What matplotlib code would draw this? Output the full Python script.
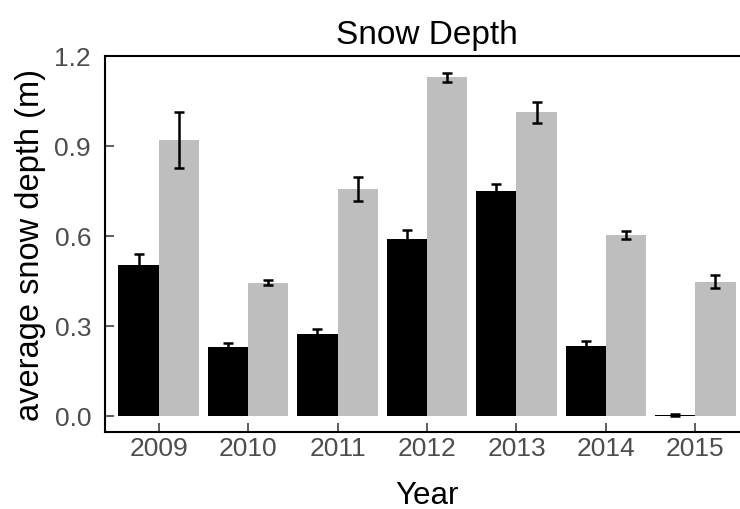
import numpy as np
import matplotlib
matplotlib.use('Agg')
import matplotlib.pyplot as plt

# Data
years = ['2009', '2010', '2011', '2012', '2013', '2014', '2015']
depth_a = [0.502, 0.228, 0.272, 0.589, 0.749, 0.232, 0.002]
err_a = [0.037, 0.013, 0.017, 0.030, 0.024, 0.017, 0.002]
depth_b = [0.919, 0.443, 0.755, 1.128, 1.012, 0.602, 0.446]
err_b = [0.093, 0.008, 0.040, 0.015, 0.035, 0.014, 0.022]
yticks = [0.0, 0.3, 0.6, 0.9, 1.2]

plt.rcParams['font.family'] = ['Liberation Sans', 'DejaVu Sans']

fig = plt.figure(figsize=(7.4, 5.1), dpi=100)
ax = fig.add_axes([105/740, 77/510, 644/740, 376.3/510])

x = np.arange(len(years))
w = 0.45
ax.bar(x - w/2, depth_a, width=w, color='black', edgecolor='none')
ax.bar(x + w/2, depth_b, width=w, color='#BEBEBE', edgecolor='none')
ax.errorbar(x - w/2, depth_a, yerr=err_a, fmt='none', ecolor='black',
            elinewidth=1.8, capsize=3.3, capthick=1.8)
ax.errorbar(x + w/2, depth_b, yerr=err_b, fmt='none', ecolor='black',
            elinewidth=1.8, capsize=3.3, capthick=1.8)

ax.set_xlim(-0.6, len(years) - 0.4)
ax.set_ylim(-0.055, 1.2)
ax.set_xticks(x)
ax.set_xticklabels(years)
ax.set_yticks(yticks)
ax.set_yticklabels(['%.1f' % t for t in yticks])

for s in ax.spines.values():
    s.set_linewidth(1.5)
    s.set_color('black')

ax.tick_params(direction='in', length=6.5, width=1.1, color='#333333',
               labelcolor='#4D4D4D', labelsize=19)
ax.tick_params(axis='y', pad=10)
ax.tick_params(axis='x', pad=3)

ax.set_title('Snow Depth', fontsize=24, pad=9)
ax.set_xlabel('Year', fontsize=22.5, labelpad=14)
ax.set_ylabel('average snow depth (m)', fontsize=23.5, labelpad=6)

fig.savefig('out.png', dpi=100)
